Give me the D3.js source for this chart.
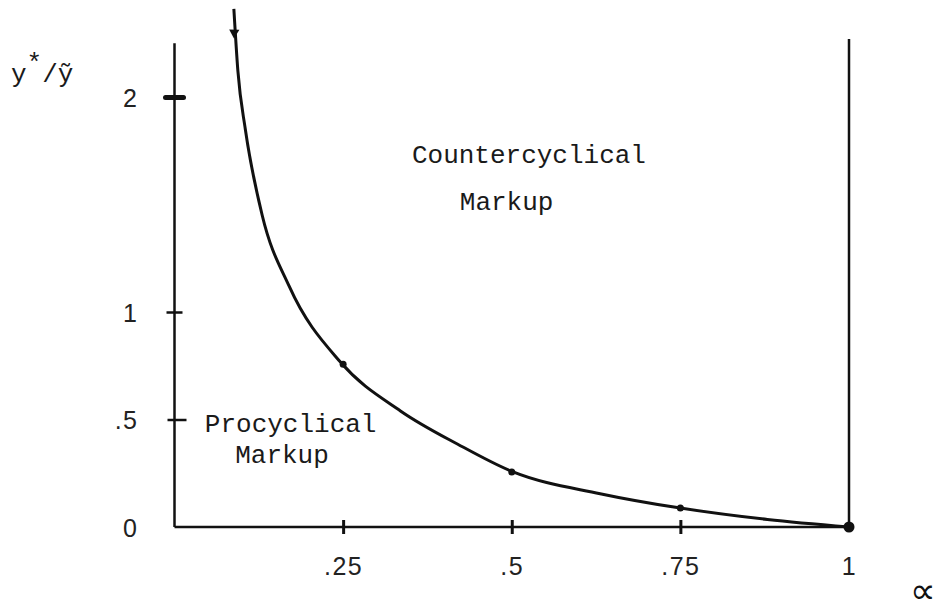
<!DOCTYPE html>
<html>
<head>
<meta charset="utf-8">
<script src="https://cdn.jsdelivr.net/npm/d3@7"></script>
<style>
  body { margin: 0; background: #fff; }
  svg { display: block; }
  .tick-label { font-family: "Liberation Sans", Arial, sans-serif; font-size: 25px; letter-spacing: 1.5px; fill: #222; }
  .note { font-family: "Liberation Mono", "Courier New", monospace; font-size: 26px; fill: #1a1a1a; }
</style>
</head>
<body>
<svg width="947" height="613"></svg>
<script>
// curve
var alphaVals = [0.088, 0.094, 0.105, 0.13, 0.17, 0.246, 0.335, 0.42, 0.502, 0.631, 0.75, 0.879, 1.0];
var ratioVals = [2.41, 2.12, 1.85, 1.45, 1.12, 0.767, 0.54, 0.385, 0.256, 0.155, 0.088, 0.035, 0];

// little dots on the curve
var dotAlphas = [0.25, 0.5, 0.75, 1];
var dotRatios = [0.757, 0.256, 0.088, 0];

var xTicks = [0.25, 0.5, 0.75, 1];
var xTickLabels = [".25", ".5", ".75", "1"];
var yTicks = [0, 0.5, 1, 2];
var yTickLabels = ["0", ".5", "1", "2"];

var yAxisTop = 2.25;
var rightLineTop = 2.27;

var notes = [
  {text: "Countercyclical", alpha: 0.352, ratio: 1.693},
  {text: "Markup", alpha: 0.423, ratio: 1.474},
  {text: "Procyclical", alpha: 0.045, ratio: 0.442},
  {text: "Markup", alpha: 0.09, ratio: 0.298}
];

var svg = d3.select("svg");

var x = d3.scaleLinear().domain([0, 1]).range([174.5, 849]);
var y = d3.scaleLinear().domain([0, 2]).range([527, 97]);

// x axis
var xAxis = svg.append("g")
    .attr("transform", "translate(0," + y(0) + ")")
    .call(d3.axisBottom(x).tickValues(xTicks).tickSize(7)
      .tickFormat(function (d, i) { return xTickLabels[i]; }));
xAxis.attr("font-size", null).attr("font-family", null);
xAxis.select(".domain").attr("d", "M" + x(0) + ",0H" + x(1)).attr("stroke", "#111").attr("stroke-width", 2.5);
xAxis.selectAll(".tick line").attr("y1", -7).attr("stroke", "#111").attr("stroke-width", 3);
xAxis.selectAll(".tick").filter(function (d) { return d === 1; }).select("line").remove();
xAxis.selectAll(".tick text").attr("class", "tick-label").attr("y", 0).attr("dy", 48);

// y axis
var yAxis = svg.append("g")
    .attr("transform", "translate(" + x(0) + ",0)")
    .call(d3.axisLeft(y).tickValues(yTicks).tickSize(8)
      .tickFormat(function (d, i) { return yTickLabels[i]; }));
yAxis.attr("font-size", null).attr("font-family", null);
yAxis.select(".domain").attr("d", "M0," + y(0) + "V" + y(yAxisTop)).attr("stroke", "#111").attr("stroke-width", 2.5);
yAxis.selectAll(".tick line").attr("x1", -8).attr("x2", 8).attr("stroke", "#111").attr("stroke-width", 2.5);
yAxis.selectAll(".tick").filter(function (d) { return d === 2; }).select("line")
    .attr("stroke-width", 5).attr("x1", -9).attr("x2", 9).attr("stroke-linecap", "round");
yAxis.selectAll(".tick").filter(function (d) { return d === 0.5; }).select("line")
    .attr("x1", -7).attr("x2", 12);
yAxis.selectAll(".tick").filter(function (d) { return d === 0; }).select("line").remove();
yAxis.selectAll(".tick text").attr("class", "tick-label").attr("x", -36).attr("dy", "0.36em");

// right boundary at alpha = 1
svg.append("line")
    .attr("x1", x(1)).attr("x2", x(1))
    .attr("y1", y(0)).attr("y2", y(rightLineTop))
    .attr("stroke", "#111").attr("stroke-width", 2.5);

// the curve
var pts = alphaVals.map(function (a, i) { return [a, ratioVals[i]]; });
var line = d3.line()
    .x(function (d) { return x(d[0]); })
    .y(function (d) { return y(d[1]); })
    .curve(d3.curveMonotoneX);

svg.append("path")
    .datum(pts)
    .attr("d", line)
    .attr("fill", "none")
    .attr("stroke", "#111")
    .attr("stroke-width", 3);

// arrow head near the top
svg.append("path")
    .attr("d", d3.symbol().type(d3.symbolTriangle).size(45))
    .attr("transform", "translate(" + x(0.0885) + "," + y(2.3) + ") rotate(182)")
    .attr("fill", "#111");

// dots
svg.selectAll(".dot")
    .data(dotAlphas)
    .enter().append("circle")
    .attr("class", "dot")
    .attr("cx", function (d) { return x(d); })
    .attr("cy", function (d, i) { return y(dotRatios[i]); })
    .attr("r", function (d) { return d === 1 ? 5.5 : 3.5; })
    .attr("fill", "#111");

// notes
svg.selectAll(".note")
    .data(notes)
    .enter().append("text")
    .attr("class", "note")
    .attr("x", function (d) { return x(d.alpha); })
    .attr("y", function (d) { return y(d.ratio); })
    .text(function (d) { return d.text; });

// axis titles
var yt = svg.append("text").attr("class", "note").attr("x", 11).attr("y", 82).attr("font-size", 25);
yt.append("tspan").text("y");
yt.append("tspan").attr("dy", -11).attr("font-size", 26).text("*");
yt.append("tspan").attr("dy", 11).text("/ỹ");

svg.append("text")
    .attr("x", 910).attr("y", 603)
    .attr("font-family", "DejaVu Sans, sans-serif")
    .attr("font-size", 36)
    .attr("fill", "#111")
    .text("∝");
</script>
</body>
</html>
